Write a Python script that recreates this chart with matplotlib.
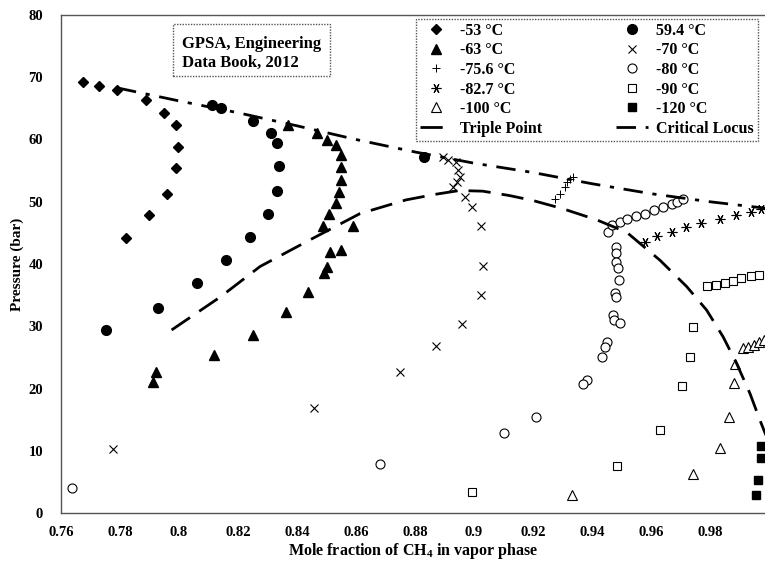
import numpy as np
import matplotlib
matplotlib.use('Agg')
import matplotlib.pyplot as plt
from matplotlib.patches import Rectangle

plt.rcParams['font.family'] = ['Liberation Serif', 'DejaVu Serif']
plt.rcParams['font.weight'] = 'bold'
plt.rcParams['mathtext.fontset'] = 'custom'
plt.rcParams['mathtext.rm'] = 'Liberation Serif:bold'
plt.rcParams['mathtext.it'] = 'Liberation Serif:bold'
plt.rcParams['mathtext.bf'] = 'Liberation Serif:bold'

# -53 C
x_m53 = [0.7676, 0.7729, 0.7789, 0.7888, 0.7949, 0.7990, 0.7998, 0.7989, 0.7958, 0.7898, 0.7819]
p_m53 = [69.3, 68.6, 67.9, 66.3, 64.3, 62.4, 58.8, 55.5, 51.2, 47.9, 44.2]
# 59.4 C
x_594 = [0.8111, 0.8141, 0.8250, 0.8311, 0.8331, 0.8340, 0.8331, 0.8301, 0.8241, 0.8159, 0.8060, 0.7928, 0.7751, 0.8832]
p_594 = [65.5, 65.0, 63.0, 61.1, 59.4, 55.8, 51.7, 48.1, 44.4, 40.6, 37.0, 33.0, 29.4, 57.2]
# -63 C
x_m63 = [0.8370, 0.8469, 0.8501, 0.8531, 0.8551, 0.8551, 0.8551, 0.8542, 0.8531, 0.8510, 0.8489, 0.8591,
         0.8512, 0.8551, 0.8501, 0.8493, 0.8439, 0.8362, 0.8250, 0.8119, 0.7921, 0.7911]
p_m63 = [62.3, 61.0, 59.9, 59.1, 57.5, 55.6, 53.5, 51.6, 49.8, 48.0, 46.1, 46.1,
         42.0, 42.2, 39.5, 38.5, 35.5, 32.3, 28.6, 25.4, 22.7, 21.1]
# -70 C
x_m70 = [0.8896, 0.8913, 0.8939, 0.8947, 0.8953, 0.8941, 0.8930, 0.8969, 0.8992, 0.9023, 0.9032, 0.9023,
         0.8960, 0.8871, 0.8749, 0.8459, 0.7777]
p_m70 = [57.2, 56.7, 56.4, 55.1, 54.0, 53.2, 52.3, 50.8, 49.2, 46.1, 39.7, 35.0,
         30.3, 26.8, 22.7, 16.9, 10.3]
# -75.6 C
x_m756 = [0.9275, 0.9292, 0.9308, 0.9316, 0.9325, 0.9335]
p_m756 = [50.4, 51.2, 52.3, 53.1, 53.6, 54.0]
# -80 C
x_m80 = [0.9455, 0.9467, 0.9495, 0.9520, 0.9550, 0.9580, 0.9610, 0.9640, 0.9670, 0.9690, 0.9710,
         0.9481, 0.9481, 0.9481, 0.9489, 0.9493, 0.9478, 0.9481, 0.9472, 0.9475, 0.9495, 0.9450, 0.9444,
         0.9433, 0.9382, 0.9371, 0.9210, 0.9102, 0.8681, 0.7638]
p_m80 = [45.2, 46.3, 46.8, 47.3, 47.7, 48.1, 48.6, 49.1, 49.6, 50.0, 50.4,
         42.8, 41.7, 40.4, 39.3, 37.4, 35.4, 34.7, 31.8, 31.0, 30.6, 27.5, 26.6,
         25.1, 21.4, 20.7, 15.4, 12.9, 7.8, 4.0]
# -82.7 C
x_m827 = [0.9580, 0.9622, 0.9673, 0.9720, 0.9771, 0.9834, 0.9890, 0.9940, 0.9975]
p_m827 = [43.6, 44.5, 45.2, 46.0, 46.6, 47.2, 47.9, 48.4, 48.9]
# -90 C
x_m90 = [0.9791, 0.9822, 0.9850, 0.9877, 0.9905, 0.9941, 0.9967, 0.9744, 0.9732, 0.9704, 0.9631, 0.9484, 0.8992]
p_m90 = [36.4, 36.6, 36.9, 37.3, 37.7, 38.0, 38.2, 29.8, 25.1, 20.4, 13.4, 7.6, 3.3]
# -100 C
x_m100 = [0.9911, 0.9931, 0.9951, 0.9967, 0.9982, 0.9885, 0.9881, 0.9864, 0.9834, 0.9744, 0.9333]
p_m100 = [26.5, 26.7, 27.0, 27.4, 27.8, 23.9, 20.9, 15.4, 10.4, 6.3, 2.9]
# -120 C
x_m120 = [0.9975, 0.9975, 0.9964, 0.9955]
p_m120 = [10.7, 8.8, 5.3, 2.9]

# triple point curve
x_tp = [0.7975, 0.8140, 0.8275, 0.8445, 0.8614, 0.8770, 0.8870, 0.8950, 0.9030, 0.9120, 0.9200, 0.9300,
        0.9416, 0.9518, 0.9631, 0.9721, 0.9789, 0.9845, 0.9891, 0.9936, 0.9970, 0.9990]
p_tp = [29.4, 34.7, 39.6, 43.9, 48.1, 50.3, 51.2, 51.8, 51.7, 51.0, 50.2, 48.9,
        47.1, 45.1, 40.6, 36.4, 32.6, 28.3, 24.0, 19.2, 14.9, 12.5]
# critical locus
x_cl = [0.7790, 0.8000, 0.8200, 0.8400, 0.8600, 0.8800, 0.9000, 0.9200, 0.9400, 0.9600, 0.9800, 1.0000]
p_cl = [68.3, 66.2, 64.3, 62.2, 60.0, 58.0, 56.2, 54.7, 52.9, 51.3, 50.0, 48.9]

xtick_labels = ['0.76', '0.78', '0.8', '0.82', '0.84', '0.86', '0.88', '0.9', '0.92', '0.94', '0.96', '0.98']

fig = plt.figure(figsize=(7.65, 5.63), dpi=100)
ax = fig.add_axes([61/765, 50/563, 704/765, 498/563])

ms = dict(linestyle='none', color='black')
h1, = ax.plot(x_m53, p_m53, marker='D', ms=5, label='-53 °C', **ms)
h2, = ax.plot(x_594, p_594, marker='o', ms=7, label='59.4 °C', **ms)
h3, = ax.plot(x_m63, p_m63, marker='^', ms=7, label='-63 °C', **ms)
h4, = ax.plot(x_m70, p_m70, marker='x', ms=6, mew=0.8, label='-70 °C', **ms)
h5, = ax.plot(x_m756, p_m756, marker='+', ms=6, mew=0.7, label='-75.6 °C', **ms)
h6, = ax.plot(x_m80, p_m80, marker='o', ms=6.5, mfc='white', mew=0.8, label='-80 °C', **ms)
h7, = ax.plot(x_m827, p_m827, marker=(6, 2, 30), ms=7, mew=0.8, label='-82.7 °C', **ms)
h8, = ax.plot(x_m90, p_m90, marker='s', ms=6, mfc='white', mew=0.8, label='-90 °C', **ms)
h9, = ax.plot(x_m100, p_m100, marker='^', ms=6.5, mfc='white', mew=0.8, label='-100 °C', **ms)
h10, = ax.plot(x_m120, p_m120, marker='s', ms=6, label='-120 °C', **ms)
h11, = ax.plot(x_tp, p_tp, color='black', lw=2, dashes=(8, 4), label='Triple Point')
h12, = ax.plot(x_cl, p_cl, color='black', lw=2, dashes=(7, 3.5, 1.5, 3.5), label='Critical Locus')

ax.set_xlim(0.76, 0.9987)
ax.set_ylim(0, 80)
ax.set_xticks(np.arange(0.76, 0.99, 0.02))
ax.set_xticklabels(xtick_labels)
ax.set_yticks(range(0, 81, 10))
ax.tick_params(axis='both', length=0, labelsize=10.5)
ax.tick_params(axis='y', pad=13)
ax.tick_params(axis='x', pad=9)

for s in ['left', 'top', 'bottom']:
    ax.spines[s].set_color('#555555')
    ax.spines[s].set_linestyle((0, (1, 1)))
    ax.spines[s].set_linewidth(1)
ax.spines['right'].set_visible(False)

ax.set_xlabel(r'Mole fraction of CH$_4$ in vapor phase', fontsize=11.5, fontweight='bold', labelpad=2)
ax.set_ylabel('Pressure (bar)', fontsize=11, fontweight='bold', labelpad=3)

handles = [h1, h3, h5, h7, h9, h11, h2, h4, h6, h8, h10, h12]
leg = ax.legend(handles=handles, loc='upper left', ncol=2, mode='expand',
                bbox_to_anchor=(0.504, 0.792, 0.486, 0.2), fontsize=11.5,
                fancybox=False, framealpha=1, edgecolor='#555555', handlelength=2.0,
                handletextpad=0.5, labelspacing=0.22, borderpad=0.25, borderaxespad=0)
leg.get_frame().set_linestyle((0, (1, 1)))
leg.get_frame().set_linewidth(1)

ax.add_patch(Rectangle((0.159, 0.8775), 0.223, 0.1044, transform=ax.transAxes, fill=True,
                       fc='white', ec='#555555', ls=(0, (1, 1)), lw=1, zorder=5))
ax.text(0.172, 0.922, 'GPSA, Engineering\nData Book, 2012', transform=ax.transAxes,
        fontsize=12, fontweight='bold', va='center', ha='left', linespacing=1.25, zorder=6)

fig.savefig('out.png', dpi=100)
